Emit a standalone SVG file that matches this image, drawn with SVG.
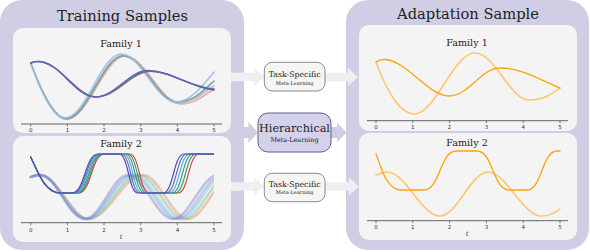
<svg xmlns="http://www.w3.org/2000/svg" width="590" height="252" viewBox="0 0 590 252">
<style>
.outer{fill:#d0cee4}
.inner{fill:#f4f4f4}
.ttl{font-family:"DejaVu Serif",serif;font-size:14.7px;fill:#222;text-anchor:middle}
.fam{font-family:"DejaVu Serif",serif;font-size:9.6px;fill:#222;text-anchor:middle}
.tk{font-family:"DejaVu Sans",sans-serif;font-size:5.5px;fill:#333;text-anchor:middle}
.tl{font-family:"DejaVu Serif",serif;font-style:italic;font-size:6.5px;fill:#333;text-anchor:middle}
.ax{stroke:#555;stroke-width:0.9;fill:none}
.tick{stroke:#444;stroke-width:0.7}
.c{fill:none;stroke-linecap:round;stroke-linejoin:round}
.ga{fill:#efefef}
.la{fill:#d0cee4}
.ts{fill:#f5f5f5;stroke:#6e6e6e;stroke-width:0.8}
.hb{fill:#d4d1ea;stroke:#615f92;stroke-width:1}
.bt{font-family:"DejaVu Serif",serif;fill:#222;text-anchor:middle}
</style>
<defs>
<clipPath id="clipL2"><rect x="28" y="140" width="186" height="85"/></clipPath>
</defs>

<g id="training-panel">
<rect class="outer" x="0" y="0" width="244" height="250" rx="22"/>
<text class="ttl" x="122.5" y="21">Training Samples</text>
</g>
<g id="adaptation-panel">
<rect class="outer" x="346" y="0" width="243" height="250" rx="22"/>
<text class="ttl" x="468" y="19">Adaptation Sample</text>
</g>

<g id="connectors">
<path class="ga" d="M228,72.8 H254 V68 L264,77 L254,86 V81.2 H228 Z"/>
<path class="ga" d="M325,72.8 H348 V68 L358,77 L348,86 V81.2 H325 Z"/>
<path class="ga" d="M228,182.3 H254 V177.5 L264,186.5 L254,195.5 V190.7 H228 Z"/>
<path class="ga" d="M325,182.3 H349 V177.5 L359,186.5 L349,195.5 V190.7 H325 Z"/>
<path class="la" d="M240,127 H248.5 V122 L258,132.5 L248.5,143 V138 H240 Z"/>
<path class="la" d="M330,127 H337 V122.5 L346.5,132.5 L337,142.5 V138 H330 Z"/>
</g>

<g id="task-specific-top">
<rect class="ts" x="264.3" y="62.3" width="60.7" height="28.7" rx="8"/>
<text class="bt" x="294.6" y="76.5" font-size="7.8">Task-Specific</text>
<text class="bt" x="294.6" y="85" font-size="5">Meta-Learning</text>
</g>
<g id="hierarchical">
<rect class="hb" x="258" y="113" width="73" height="39" rx="10"/>
<text class="bt" x="294.5" y="132" font-size="11.2">Hierarchical</text>
<text class="bt" x="294.5" y="142" font-size="6.4">Meta-Learning</text>
</g>
<g id="task-specific-bottom">
<rect class="ts" x="264.3" y="173.3" width="60.7" height="28.4" rx="8"/>
<text class="bt" x="294.6" y="186.5" font-size="7.8">Task-Specific</text>
<text class="bt" x="294.6" y="194.3" font-size="5">Meta-Learning</text>
</g>

<g id="train-family1">
<rect class="inner" x="13" y="28" width="218" height="105" rx="10"/>
<text class="fam" x="121" y="47">Family 1</text>
<path class="c" stroke="#e39a88" stroke-width="1.5" opacity="0.85" d="M30.7,63 C40,88 54,119 67,119 C88,119 105,56 125,56 C145,56 161,104 181,104 C196,104 207,93 214,89"/>
<path class="c" stroke="#a9b4dd" stroke-width="1.6" opacity="0.85" d="M30.7,63 C40,88 53,118 66,118 C87,118 103,55 123,55 C143,55 158,103 178,103 C194,103 206,90 214,86"/>
<path class="c" stroke="#6f9c9c" stroke-width="1.6" opacity="0.9" d="M30.7,63 C40,88 53,119 66,119 C87,119 103,56 123,56 C143,56 158,102 178,102 C194,102 206,88 214,81"/>
<path class="c" stroke="#97bfe2" stroke-width="1.6" opacity="0.9" d="M30.7,63 C40,88 52,118 65,118 C86,118 101,54 121,54 C141,54 156,102 176,102 C192,102 205,82 214,72"/>
<path class="c" stroke="#c06868" stroke-width="1.2" d="M30.7,63 C33,62 35,61.5 38,61.5 C60,61.5 77,97 97,97 C117,97 131,71.5 151,71.5 C172,71.5 192,88 214,90"/>
<path class="c" stroke="#3f8096" stroke-width="1.4" d="M30.7,63 C33,62 35,61.5 38,61.5 C60,61.5 76,97 96,97 C116,97 130,71 150,71 C171,71 191,88 214,90"/>
<path class="c" stroke="#6264b8" stroke-width="1.4" d="M30.7,63 C33,62 35,61.5 38,61.5 C60,61.5 75,97 95,97 C115,97 129,70.5 148,70.5 C169,70.5 190,87 214,89"/>
<path class="ax" d="M21,124 H222"/>
<path class="tick" d="M30.7,124v2.5M67.4,124v2.5M104,124v2.5M140.7,124v2.5M177.4,124v2.5M214,124v2.5"/>
<text class="tk" x="30.7" y="131.5">0</text><text class="tk" x="67.4" y="131.5">1</text><text class="tk" x="104" y="131.5">2</text><text class="tk" x="140.7" y="131.5">3</text><text class="tk" x="177.4" y="131.5">4</text><text class="tk" x="214" y="131.5">5</text>
</g>

<g id="train-family2">
<rect class="inner" x="13" y="136" width="218" height="106" rx="10"/>
<text class="fam" x="121" y="147">Family 2</text>
<g clip-path="url(#clipL2)">
<path class="c" stroke="#e08870" stroke-width="2.4" opacity="0.45" d="M30.7,177 C34,175.5 37,175 40,175 C58,175 72,219 89,219 C108,219 124,175 143,175 C159,175 172,219 188,219 C204,219 217,175 233,175"/>
<path class="c" stroke="#70c080" stroke-width="2.4" opacity="0.45" d="M30.7,177 C34,175.5 37,175 40,175 C57,175 71,219 88,219 C106,219 121,175 139,175 C155,175 168,219 184,219 C200,219 213,175 229,175"/>
<path class="c" stroke="#80c4e0" stroke-width="2.4" opacity="0.45" d="M30.7,177 C34,175.5 37,175 40,175 C57,175 70,219 87,219 C104,219 118,175 135,175 C151,175 164,219 180,219 C196,219 209,175 225,175"/>
<path class="c" stroke="#70a0e0" stroke-width="2.4" opacity="0.45" d="M30.7,177 C34,175.5 37,175 40,175 C57,175 69,219 86,219 C102.5,219 115.5,175 132,175 C148,175 161,219 177,219 C193,219 206,175 222,175"/>
<path class="c" stroke="#8878d0" stroke-width="2.4" opacity="0.45" d="M30.7,177 C34,175.5 37,175 40,175 C57,175 68,219 85,219 C100.5,219 112.5,175 128,175 C144,175 157,219 173,219 C189,219 202,175 218,175"/>
<path class="c" stroke="#d43c3c" stroke-width="1.1" d="M30.7,157 C38,172 45,193 60,193 L78.5,193 C91.5,193 91.5,154 104.5,154 L130,154 C139.5,154 139.5,193 149,193 L178,193 C188.5,193 188.5,154 199,154 L214,154"/>
<path class="c" stroke="#3a9a4a" stroke-width="1.1" d="M30.7,157 C38,172 45,193 60,193 L77.2,193 C90.2,193 90.2,154 103.2,154 L127.8,154 C137.3,154 137.3,193 146.8,193 L175,193 C185.5,193 185.5,154 196,154 L214,154"/>
<path class="c" stroke="#2a9a9a" stroke-width="1.1" d="M30.7,157 C38,172 45,193 60,193 L75.9,193 C88.9,193 88.9,154 101.9,154 L125.6,154 C135.1,154 135.1,193 144.6,193 L172,193 C182.5,193 182.5,154 193,154 L214,154"/>
<path class="c" stroke="#58a8d8" stroke-width="1.1" d="M30.7,157 C38,172 45,193 60,193 L74.6,193 C87.6,193 87.6,154 100.6,154 L123.4,154 C132.9,154 132.9,193 142.4,193 L169,193 C179.5,193 179.5,154 190,154 L214,154"/>
<path class="c" stroke="#4a6fd0" stroke-width="1.1" d="M30.7,157 C38,172 45,193 60,193 L73.3,193 C86.3,193 86.3,154 99.3,154 L121.2,154 C130.7,154 130.7,193 140.2,193 L166,193 C176.5,193 176.5,154 187,154 L214,154"/>
<path class="c" stroke="#5b4ea8" stroke-width="1.2" d="M30.7,157 C38,172 45,193 60,193 L72,193 C85,193 85,154 98,154 L119,154 C128.5,154 128.5,193 138,193 L163,193 C173.5,193 173.5,154 184,154 L214,154"/>
</g>
<path class="ax" d="M21,222.7 H222"/>
<path class="tick" d="M30.7,222.7v2.5M67.4,222.7v2.5M104,222.7v2.5M140.7,222.7v2.5M177.4,222.7v2.5M214,222.7v2.5"/>
<text class="tk" x="30.7" y="231.5">0</text><text class="tk" x="67.4" y="231.5">1</text><text class="tk" x="104" y="231.5">2</text><text class="tk" x="140.7" y="231.5">3</text><text class="tk" x="177.4" y="231.5">4</text><text class="tk" x="214" y="231.5">5</text>
<text class="tl" x="121" y="238.5">t</text>
</g>

<g id="adapt-family1">
<rect class="inner" x="359" y="25" width="218" height="106" rx="10"/>
<text class="fam" x="467" y="46">Family 1</text>
<path class="c" stroke="#fec76c" stroke-width="1.6" d="M376,62 C386,90 400,114 414,114 C436,114 453,53 475,53 C495,53 510,100 529,100 C545,100 553,93 560,88"/>
<path class="c" stroke="#ffa30a" stroke-width="1.3" d="M376,62 C379,60 381,59.5 384,59.5 C406,59.5 428,96 449,96 C469,96 481,68 500,68 C522,68 540,80 560,88"/>
<path class="ax" d="M367,120.7 H568"/>
<path class="tick" d="M376,120.7v2.5M412.8,120.7v2.5M449.6,120.7v2.5M486.4,120.7v2.5M523.2,120.7v2.5M560,120.7v2.5"/>
<text class="tk" x="376" y="129">0</text><text class="tk" x="412.8" y="129">1</text><text class="tk" x="449.6" y="129">2</text><text class="tk" x="486.4" y="129">3</text><text class="tk" x="523.2" y="129">4</text><text class="tk" x="560" y="129">5</text>
</g>

<g id="adapt-family2">
<rect class="inner" x="359" y="133" width="218" height="107" rx="10"/>
<text class="fam" x="467" y="145.5">Family 2</text>
<path class="c" stroke="#fec76c" stroke-width="1.6" d="M376,175 C380,173 383,172 387,172 C406,172 421,216 440,216 C457,216 471,172 488,172 C506,172 523,216 541,216 C549,216 555,213 560,209"/>
<path class="c" stroke="#ffa30a" stroke-width="1.3" d="M376,154 C381,166 386,190 401,190 L424,190 C440,190 440,151 456,151 L477,151 C493,151 493,190 509,190 L527,190 C542,190 542,151 557,151 L560,151"/>
<path class="ax" d="M367,220.7 H568"/>
<path class="tick" d="M376,220.7v2.5M412.8,220.7v2.5M449.6,220.7v2.5M486.4,220.7v2.5M523.2,220.7v2.5M560,220.7v2.5"/>
<text class="tk" x="376" y="229">0</text><text class="tk" x="412.8" y="229">1</text><text class="tk" x="449.6" y="229">2</text><text class="tk" x="486.4" y="229">3</text><text class="tk" x="523.2" y="229">4</text><text class="tk" x="560" y="229">5</text>
<text class="tl" x="467" y="235.5">t</text>
</g>
</svg>
